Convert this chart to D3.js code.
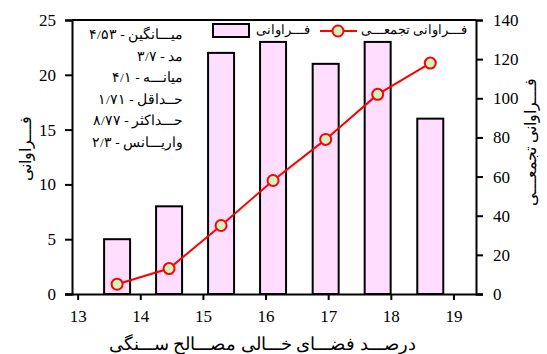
<!DOCTYPE html>
<html><head><meta charset="utf-8">
<script src="https://cdn.jsdelivr.net/npm/d3@7"></script>
<style>body{margin:0;background:#fff}svg{display:block}
svg text{font-family:"Liberation Serif";}
</style>
</head><body><svg id="c" width="547" height="354"></svg>
<script>
const binCenters = [13.63, 14.46, 15.29, 16.12, 16.96, 17.79, 18.63];
const frequency = [5, 8, 22, 23, 21, 23, 16];
const cumulative = [5, 13, 35, 58, 79, 102, 118];
const xTicks = [13, 14, 15, 16, 17, 18, 19];
const yLeftTicks = [0, 5, 10, 15, 20, 25];
const yRightTicks = [0, 20, 40, 60, 80, 100, 120, 140];
const statsLines = ["میـــانگین - ۴/۵۳", "مد - ۳/۷", "میانـــه - ۴/۱", "حــداقل - ۱/۷۱", "حـــداکثر - ۸/۷۷", "واریـــانس - ۲/۳"];
const legendLabels = ["فـــراوانی", "فـــراوانی تجمعـــی"];
const xTitle = "درصـــد فضـــای خـــالی مصـــالح ســـنگی";
const yLeftTitle = "فـــراوانی";
const yRightTitle = "فـــراوانی تجمعـــی";

const L = 72, R = 476, T = 20, B = 294;
const svg = d3.select("#c");

const x = d3.scaleLinear().domain([12.91, 19.36]).range([L, R]);
const yL = d3.scaleLinear().domain([0, 25]).range([B, T]);
const yR = d3.scaleLinear().domain([0, 140]).range([B, T]);
const bw = x(13.415) - x(13);

// bars
svg.append("g").selectAll("rect").data(frequency).join("rect")
  .attr("x", (d, i) => x(binCenters[i]) - bw / 2)
  .attr("y", d => yL(d))
  .attr("width", bw)
  .attr("height", d => B - yL(d))
  .attr("fill", "#ffddff").attr("stroke", "#000").attr("stroke-width", 2);

// frame
svg.append("line").attr("x1", L).attr("x2", R).attr("y1", T).attr("y2", T).attr("stroke", "#000").attr("stroke-width", 2);

// axes
const gx = svg.append("g").attr("transform", `translate(0,${B})`)
  .call(d3.axisBottom(x).tickValues(xTicks).tickSize(6).tickPadding(10).tickFormat(d3.format("d")));
const gl = svg.append("g").attr("transform", `translate(${L},0)`)
  .call(d3.axisLeft(yL).tickValues(yLeftTicks).tickSize(7).tickPadding(9));
const gr = svg.append("g").attr("transform", `translate(${R},0)`)
  .call(d3.axisRight(yR).tickValues(yRightTicks).tickSize(7).tickPadding(10));
[gx, gl, gr].forEach(g => {
  g.attr("font-family", null).attr("font-size", null);
  g.select(".domain").attr("stroke-width", 2);
  g.selectAll(".tick line").attr("stroke-width", 2);
  g.selectAll("text").attr("fill", "#000").style("font-size", "17px");
});
gx.select(".domain").attr("d", `M${L - 7},0.5H${R + 7}`);

// cumulative line
const line = d3.line().x((d, i) => x(binCenters[i])).y(d => yR(d));
svg.append("path").datum(cumulative).attr("d", line)
  .attr("fill", "none").attr("stroke", "#ff0000").attr("stroke-width", 2);
svg.append("g").selectAll("circle").data(cumulative).join("circle")
  .attr("cx", (d, i) => x(binCenters[i])).attr("cy", d => yR(d)).attr("r", 5.5)
  .attr("fill", "#ccf5c0").attr("stroke", "#ff0000").attr("stroke-width", 2);

// legend
svg.append("rect").attr("x", 213).attr("y", 24).attr("width", 36).attr("height", 13)
  .attr("fill", "#ffddff").attr("stroke", "#000").attr("stroke-width", 2);
svg.append("text").attr("x", 283).attr("y", 34).attr("text-anchor", "middle")
  .style("font-size", "13px").text(legendLabels[0]);
svg.append("line").attr("x1", 320).attr("x2", 357).attr("y1", 31).attr("y2", 31)
  .attr("stroke", "#ff0000").attr("stroke-width", 2);
svg.append("circle").attr("cx", 338).attr("cy", 31).attr("r", 5.5)
  .attr("fill", "#ccf5c0").attr("stroke", "#ff0000").attr("stroke-width", 2);
svg.append("text").attr("x", 414).attr("y", 34).attr("text-anchor", "middle")
  .style("font-size", "13px").text(legendLabels[1]);

// stats
svg.append("g").selectAll("text").data(statsLines).join("text")
  .attr("x", 183).attr("y", (d, i) => 39 + i * 21.5)
  .attr("text-anchor", "end").style("font-size", "13.5px")
  .text(d => d);

// titles
svg.append("text").attr("x", 262).attr("y", 350).attr("text-anchor", "middle")
  .style("font-size", "18px").text(xTitle);
svg.append("text").attr("transform", "translate(31,148) rotate(-90)").attr("text-anchor", "middle")
  .style("font-size", "16px").text(yLeftTitle);
svg.append("text").attr("transform", "translate(536,142) rotate(-90)").attr("text-anchor", "middle")
  .style("font-size", "16px").text(yRightTitle);
</script></body></html>
